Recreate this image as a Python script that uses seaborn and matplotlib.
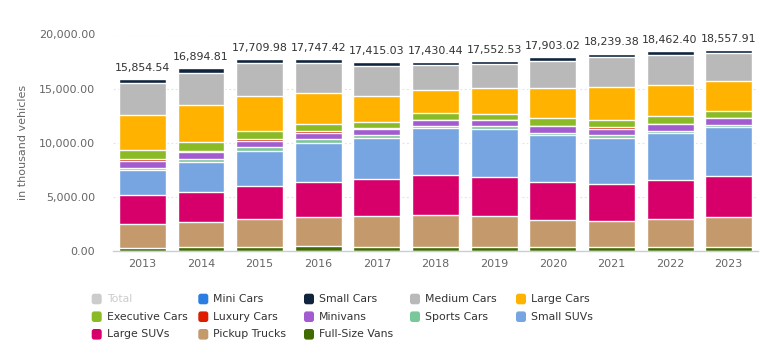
import numpy as np
import pandas as pd
import matplotlib
matplotlib.use("Agg")
import matplotlib.pyplot as plt
import seaborn as sns
from matplotlib.patches import FancyBboxPatch
from matplotlib.transforms import IdentityTransform

years = ["2013", "2014", "2015", "2016", "2017", "2018", "2019", "2020", "2021", "2022", "2023"]
totals = [15854.54, 16894.81, 17709.98, 17747.42, 17415.03, 17430.44, 17552.53, 17903.02, 18239.38, 18462.40, 18557.91]

# werte in tausend fahrzeugen
mini_cars = [0, 0, 0, 0, 0, 0, 0, 0, 0, 0, 0]
small_cars = [375, 467, 342, 342, 341, 280, 311, 342, 341, 342, 280]
medium_cars = [2971, 2987, 3014, 2833, 2732, 2299, 2206, 2549, 2792, 2797, 2608]
large_cars = [3190, 3360, 3262, 2864, 2390, 2144, 2361, 2704, 2978, 2890, 2705]
executive_cars = [876, 840, 746, 654, 590, 621, 590, 746, 651, 684, 653]
luxury_cars = [188, 93, 186, 187, 62, 31, 31, 31, 186, 62, 62]
minivans = [563, 653, 559, 560, 559, 559, 559, 622, 558, 591, 591]
sports_cars = [219, 249, 373, 374, 279, 186, 280, 249, 279, 249, 249]
small_suvs = [2283, 2800, 3231, 3549, 3818, 4288, 4381, 4289, 4281, 4289, 4477]
large_suvs = [2720, 2800, 3076, 3269, 3445, 3697, 3635, 3543, 3443, 3636, 3824]
pickup_trucks = [2251, 2333, 2610, 2708, 2887, 2952, 2827, 2455, 2358, 2549, 2736]
full_size_vans = [219, 311, 311, 405, 310, 373, 373, 373, 372, 373, 373]

# reihenfolge von oben nach unten im stapel
series = [
    ("Mini Cars", mini_cars, "#2a7de1"),
    ("Small Cars", small_cars, "#10253d"),
    ("Medium Cars", medium_cars, "#b9b9b9"),
    ("Large Cars", large_cars, "#ffb200"),
    ("Executive Cars", executive_cars, "#8abb26"),
    ("Luxury Cars", luxury_cars, "#de1c00"),
    ("Minivans", minivans, "#a25cd0"),
    ("Sports Cars", sports_cars, "#79c89a"),
    ("Small SUVs", small_suvs, "#76a5e2"),
    ("Large SUVs", large_suvs, "#d7006a"),
    ("Pickup Trucks", pickup_trucks, "#c49a6c"),
    ("Full-Size Vans", full_size_vans, "#3f6b00"),
]

sns.set_theme(style="white")
plt.rcParams["font.family"] = ["DejaVu Sans"]

W, H = 772, 354
fig = plt.figure(figsize=(W / 100, H / 100), dpi=100)
ax = fig.add_axes([113 / W, 1 - 250.7 / H, 645 / W, (250.7 - 34.5) / H])

# kumulierte summen, von unten nach oben
df = pd.DataFrame({name: vals for name, vals, _ in series}, index=years)
cum = df[df.columns[::-1]].cumsum(axis=1)

# groesste kumulierte saeule zuerst, dann darueber die kleineren
for name, vals, color in series:
    if sum(vals) == 0:
        continue
    sns.barplot(x=years, y=cum[name].values, color=color, width=0.8,
                edgecolor="white", linewidth=1, ax=ax, saturation=1)

for i, t in enumerate(totals):
    ax.annotate(f"{t:,.2f}", (i, t), xytext=(0, 4.5), textcoords="offset points",
                ha="center", va="bottom", fontsize=7.9, color="#333333")

ax.set_ylim(0, 20000)
ax.set_xlim(-0.5, len(years) - 0.5)
ax.set_yticks([0, 5000, 10000, 15000, 20000])
ax.set_yticklabels([f"{v:,.2f}" for v in [0, 5000, 10000, 15000, 20000]])
ax.tick_params(axis="y", length=0, pad=13, labelsize=8, labelcolor="#666666")
ax.tick_params(axis="x", length=0, pad=6, labelsize=8, labelcolor="#666666")
ax.set_xlabel("")
ax.set_ylabel("in thousand vehicles", fontsize=8, color="#666666", labelpad=16)
ax.yaxis.set_label_coords(-(113 - 28.5) / 645, 0.5)

ax.grid(axis="y", color="#e6e6e6", linestyle=(0, (2, 2)), linewidth=0.8)
ax.set_axisbelow(True)
for s in ["top", "right", "left"]:
    ax.spines[s].set_visible(False)
ax.spines["bottom"].set_color("#c8cfd8")
ax.spines["bottom"].set_linewidth(1)

# legende, zeilenweise wie im original
legend_items = [("Total", "#cccccc", True)] + [(n, c, False) for n, _, c in series]
col_x = [91.7, 198.3, 304, 410, 516]
row_y = [299, 316.7, 334.3]
for k, (name, color, hidden) in enumerate(legend_items):
    r, c = divmod(k, 5)
    x0 = col_x[c]
    yc = H - row_y[r]
    fig.add_artist(FancyBboxPatch((x0, yc - 5.3), 10, 10.6,
                                  boxstyle="round,pad=0,rounding_size=2.5",
                                  facecolor=color, edgecolor="none",
                                  transform=IdentityTransform()))
    fig.text(x0 + 15, yc, name, transform=IdentityTransform(),
             fontsize=7.8, va="center", ha="left",
             color="#cccccc" if hidden else "#333333")

fig.savefig("out.png", dpi=100)
